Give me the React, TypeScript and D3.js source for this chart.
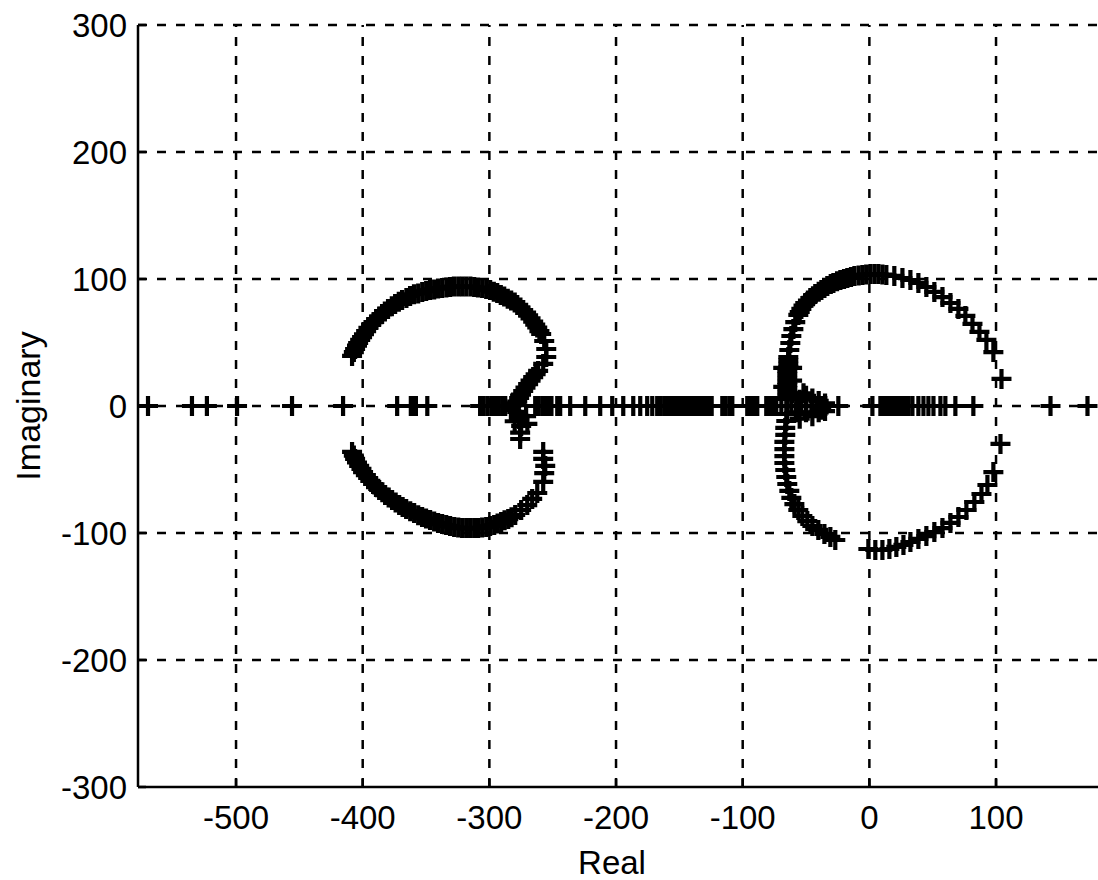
import React, { useEffect, useRef } from 'react';
import * as d3 from 'd3';

// tick values
const xTicks = [-500, -400, -300, -200, -100, 0, 100];
const yTicks = [-300, -200, -100, 0, 100, 200, 300];

// roots lying on the real axis (imaginary part 0)
const realAxisRoots = [
  -569.5, -534.8, -523, -499.2, -455.8, -415.5, -372.8, -362, -360, -358, -349,
  -307.3, -304.5, -301.5, -298.5, -295.5, -292.5, -289.5, -287.5,
  -263.8, -261, -258, -255.9, -253, -251,
  -246.4, -244.1, -236.2, -224.3, -212.5, -203, -194.3, -186.4, -180.9, -175.4, -171.4, -167.5, -165.1,
  -162, -159.5, -157, -154.5, -152, -149.5, -147, -144.5, -142, -139.5, -137, -134.5, -132, -129.5, -127, -124.5,
  -116.1, -113.5, -110.5, -108.2, -96.4, -93.5, -90.5, -88.5, -81.4, -78.5, -75.5, -73.5,
  -69.5, -65.6, -61.6, -57.7, -53.7, -49.8, -45.8, -41.9, -37.9, -34.8,
  -24.5, 2.4,
  8.7, 11, 13.5, 16, 18.5, 21, 23.5, 26, 28.5, 31, 34,
  38.7, 42.7, 46.6, 50.6, 56.1, 60, 67.9, 82.1, 143, 172.2,
];

// left loop, upper branch [real, imag]
const leftUpper = [
  [-408.4, 39.4], [-407, 42.5], [-406, 44.9], [-404.5, 47.5], [-403.6, 49.6], [-402, 52], [-400.5, 54.3],
  [-399, 56.5], [-397.3, 59], [-395.5, 61.5], [-393.4, 63.8], [-391.5, 66], [-389.4, 68.5], [-387, 70.5],
  [-384.7, 72.4], [-382.5, 74.5], [-380, 76.4], [-377, 78.5], [-374.4, 80.3], [-371.5, 82], [-368.9, 83.5],
  [-365.5, 85], [-362.6, 86.6], [-359.5, 88], [-356.2, 88.6], [-353, 89.8], [-349.9, 90.5], [-346.8, 91.3],
  [-343.6, 91.8], [-340.5, 92.5], [-337.3, 92.9], [-334, 93.3], [-331, 93.7], [-328, 94], [-324.6, 94.1],
  [-321.5, 94.1], [-318.3, 94.1], [-315, 94], [-312, 93.7], [-309, 93.3], [-305.7, 92.9], [-302.5, 92.1],
  [-299.4, 91.3], [-296.5, 90], [-293.8, 89], [-291, 87.5], [-288.3, 86.2], [-285.5, 84.5], [-282.8, 83.1],
  [-280, 81.5], [-278, 79.5], [-275.5, 77.5], [-273.3, 75.6], [-271, 73.5], [-269.4, 71.3], [-267.5, 69],
  [-265.4, 66.5], [-263.8, 64], [-262.2, 61.8], [-260.5, 59], [-259.1, 56.7], [-256.7, 51.2], [-255.1, 44.9],
  [-255.1, 38.6], [-257.5, 33.1],
];

// left loop, branch returning to the real axis
const leftReturn = [
  [-261.5, 27.6], [-263.5, 25], [-265.4, 22.8], [-267.5, 20], [-269.4, 17.3], [-271.5, 14.5], [-273.3, 11.8],
  [-275, 9], [-276.5, 6.3], [-278, 3.5], [-278.8, 0.8], [-282, 2], [-283, -3], [-278, -4.7], [-276.5, -10.2],
  [-271, -8], [-270, -14], [-280, -12], [-274.9, -15.7], [-275.7, -21], [-275.7, -26],
];

// left loop, lower branch
const leftLower = [
  [-408.4, -36.2], [-407, -39], [-406, -41.7], [-404.5, -44.5], [-402.8, -47.2], [-401, -49.5], [-399.7, -52],
  [-397.5, -54.5], [-395.7, -56.7], [-394, -59], [-391.8, -61.4], [-389.5, -63.8], [-387, -66.1],
  [-384.5, -68], [-382.3, -70.1], [-379.5, -72], [-376.8, -74], [-374, -76], [-371.2, -78], [-368.5, -79.5],
  [-365.7, -81.1], [-362.5, -82.8], [-359.4, -84.3], [-356.2, -86], [-353.1, -87.4], [-350, -88.6],
  [-346.8, -89.8], [-343.6, -91], [-340.5, -92.1], [-337.3, -93], [-334.1, -93.7], [-331, -94.5],
  [-327.8, -95.3], [-324.6, -95.7], [-321.5, -96.1], [-318.3, -96.1], [-315.2, -96.1], [-312, -96.1],
  [-308.9, -96.1], [-305.7, -95.7], [-302.5, -95.3], [-299.4, -94.5], [-296.2, -93.7], [-293.5, -92.5],
  [-290.7, -91.3], [-288, -90], [-285.1, -89], [-282.5, -87.5], [-279.6, -85.8], [-274.9, -81.9],
  [-270.1, -78], [-266.2, -73.2], [-262.2, -68.5],
  [-257.5, -59.8], [-256.7, -52.8], [-255.9, -47.2], [-257.5, -41.7], [-257.5, -36.2],
];

// right loop, upper branch
const rightUpper = [
  [-64.8, 5.5], [-64.8, 8], [-64.8, 11], [-64.8, 14], [-64.8, 16.5], [-64.8, 19], [-64.8, 22], [-64.8, 25],
  [-64.8, 27.6], [-64, 30.5], [-64, 33.1], [-64, 36], [-64, 38.6], [-63.2, 44.1], [-62.4, 49.6],
  [-61.6, 55.1], [-60, 60.6], [-58.5, 66.1], [-56.1, 71.7], [-55, 74], [-53.7, 76.4], [-52, 79],
  [-50.6, 81.1], [-48.5, 83], [-46.6, 85], [-44.5, 86.5], [-42.7, 88.2], [-40, 90], [-37.9, 91.3],
  [-35.5, 93], [-33.2, 94.5], [-30.5, 96], [-28.4, 96.9], [-25.5, 98.2], [-22.9, 99.2], [-20, 100],
  [-17.4, 100.8], [-14.5, 101.6], [-11.8, 102.4], [-8.5, 102.8], [-5.5, 103.1], [-2.5, 103.5],
  [0.8, 103.9], [4, 103.9], [7.1, 103.9], [10.3, 103.5], [13.4, 103.1], [19.7, 102.4], [26.1, 100.8],
  [32.4, 99.2], [38.7, 96.9], [45, 93.7], [51.3, 89.8], [57.7, 85.8], [64, 81.1], [70.3, 76.4],
  [75.8, 70.9], [81.4, 64.6], [86.9, 58.3], [92.4, 52], [97.9, 42.5], [104.3, 21.3],
  [-61, 10], [-61, 20], [-61, 30], [-68, 15], [-68, 30],
];

// right loop, lower branch (left part)
const rightLowerLeft = [
  [-64.8, -6.3], [-65.6, -11.8], [-66.4, -17.3], [-66.4, -22.8], [-67.1, -28.3], [-67.1, -33.9],
  [-67.1, -39.4], [-67.1, -44.9], [-66.4, -50.4], [-65.6, -55.9], [-64.8, -61.4], [-63.2, -66.9],
  [-61.6, -72.4], [-59.2, -77.2], [-56.1, -81.9], [-52.9, -86.6], [-49, -90.6], [-45, -94.5],
  [-40.3, -97.6], [-35.5, -100.8], [-30.8, -103.1], [-26.9, -105.5],
];

// right loop, lower branch (right part)
const rightLowerRight = [
  [-0.8, -112.6], [4.7, -113.4], [10.3, -113.4], [15.8, -112.6], [21.3, -111], [26.9, -109.4],
  [32.4, -107.1], [38.7, -104.7], [45, -102.4], [51.3, -99.2], [57.7, -96.1], [64, -92.1],
  [70.3, -87.4], [76.6, -81.9], [82.9, -75.6], [88.5, -69.3], [93.2, -62.2], [97.9, -52],
  [103.5, -29.9],
];

// cluster just off the axis near -50
const nearAxisCluster = [
  [-55, 5], [-52, 10], [-50, 8], [-45, 6], [-40, 4], [-35, 2], [-58, -5], [-55, -10], [-50, -5],
  [-45, -8], [-40, -5], [-38, -3], [-35, -4],
];

const RootLocus = () => {
  const svgRef = useRef(null);

  useEffect(() => {
    const width = 1098;
    const height = 880;
    const margin = { top: 25, right: 0, bottom: 93, left: 138 };

    d3.select(svgRef.current).selectAll('*').remove();

    const svg = d3.select(svgRef.current).attr('width', width).attr('height', height);

    const x = d3.scaleLinear().domain([-577.4, 180.5]).range([margin.left, width - margin.right]);
    const y = d3.scaleLinear().domain([-300, 300]).range([height - margin.bottom, margin.top]);

    const font = 'Liberation Sans, Arial, sans-serif';

    // Grid
    const grid = svg.append('g').attr('stroke', '#000').attr('stroke-width', 2.5).attr('stroke-dasharray', '9,10');
    xTicks.forEach((t) => {
      grid.append('line').attr('x1', x(t)).attr('x2', x(t)).attr('y1', y(-300)).attr('y2', y(300));
    });
    yTicks.filter((t) => t > -300).forEach((t) => {
      grid.append('line').attr('x1', x.range()[0]).attr('x2', x.range()[1]).attr('y1', y(t)).attr('y2', y(t));
    });

    // Axes lines + inward ticks
    const axis = svg.append('g').attr('stroke', '#000').attr('stroke-width', 2.5).attr('fill', 'none');
    axis.append('line').attr('x1', x.range()[0]).attr('x2', x.range()[1]).attr('y1', y(-300)).attr('y2', y(-300));
    axis.append('line').attr('x1', x.range()[0]).attr('x2', x.range()[0]).attr('y1', y(-300)).attr('y2', y(300));
    xTicks.forEach((t) => {
      axis.append('line').attr('x1', x(t)).attr('x2', x(t)).attr('y1', y(-300)).attr('y2', y(-300) - 8);
    });
    yTicks.forEach((t) => {
      axis.append('line').attr('x1', x.range()[0]).attr('x2', x.range()[0] + 8).attr('y1', y(t)).attr('y2', y(t));
    });

    // Tick labels
    svg
      .append('g')
      .selectAll('text')
      .data(xTicks)
      .enter()
      .append('text')
      .attr('x', (d) => x(d))
      .attr('y', 829)
      .attr('text-anchor', 'middle')
      .attr('font-family', font)
      .attr('font-size', 33)
      .text((d) => d);

    svg
      .append('g')
      .selectAll('text')
      .data(yTicks)
      .enter()
      .append('text')
      .attr('x', 127)
      .attr('y', (d) => y(d))
      .attr('dy', '0.36em')
      .attr('text-anchor', 'end')
      .attr('font-family', font)
      .attr('font-size', 33)
      .text((d) => d);

    // Axis labels
    svg
      .append('text')
      .attr('x', 612)
      .attr('y', 874)
      .attr('text-anchor', 'middle')
      .attr('font-family', font)
      .attr('font-size', 33)
      .text('Real');

    svg
      .append('text')
      .attr('transform', `translate(40,${y(0)}) rotate(-90)`)
      .attr('text-anchor', 'middle')
      .attr('font-family', font)
      .attr('font-size', 34)
      .text('Imaginary');

    // Markers
    const points = [
      ...realAxisRoots.map((r) => [r, 0]),
      ...leftUpper,
      ...leftReturn,
      ...leftLower,
      ...rightUpper,
      ...rightLowerLeft,
      ...rightLowerRight,
      ...nearAxisCluster,
    ];

    const s = 10;
    svg
      .append('g')
      .selectAll('path')
      .data(points)
      .enter()
      .append('path')
      .attr('d', (d) => {
        const cx = x(d[0]);
        const cy = y(d[1]);
        return `M${cx - s},${cy}H${cx + s}M${cx},${cy - s}V${cy + s}`;
      })
      .attr('stroke', '#000')
      .attr('stroke-width', 4.2)
      .attr('fill', 'none');
  }, []);

  return <svg ref={svgRef} style={{ display: 'block' }}></svg>;
};

export default function App() {
  return (
    <div style={{ position: 'absolute', left: 0, top: 0, background: '#fff' }}>
      <RootLocus />
    </div>
  );
}
